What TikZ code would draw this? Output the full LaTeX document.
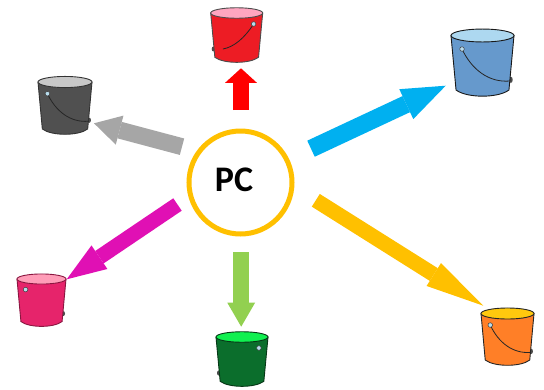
\documentclass[tikz,border=0pt]{standalone}
\usepackage{fontspec}
\setmainfont{Carlito}
\usetikzlibrary{calc}
\definecolor{aRed}{HTML}{FF0000}
\definecolor{aBlue}{HTML}{00B0F0}
\definecolor{aGray}{HTML}{A6A6A6}
\definecolor{aMag}{HTML}{E010B4}
\definecolor{aGreen}{HTML}{92D050}
\definecolor{aOrange}{HTML}{FFC000}
\definecolor{pinFill}{HTML}{B8DCEC}
\definecolor{bRed}{HTML}{ED1C24}\definecolor{rRed}{HTML}{FFA6C0}
\definecolor{bBlue}{HTML}{6699CC}\definecolor{rBlue}{HTML}{ADD8F0}
\definecolor{bGray}{HTML}{505050}\definecolor{rGray}{HTML}{C8C8C8}
\definecolor{bPink}{HTML}{E6246B}\definecolor{rPink}{HTML}{FF9DB8}
\definecolor{bGreen}{HTML}{0B6E2C}\definecolor{rGreen}{HTML}{10F050}
\definecolor{bOrange}{HTML}{FF7F27}\definecolor{rOrange}{HTML}{FFC90E}
\tikzset{
  pinnode/.style={circle,draw=black!75,fill=pinFill,line width=.5pt,inner sep=0pt,minimum size=4.6pt},
  handleline/.style={draw=black!85,line width=.8pt}
}
% name, cx, rim y, signed half width, height, body, rim, outline, handle path
\newcommand\bucketdraw[9]{%
  \begin{scope}[shift={(#2,#3)},xscale=#4,yscale=#5]
    \fill[black!70] (.9,.72) ellipse [x radius=.06,y radius=.05];
    \path[fill=#6,draw=#8,line width=.9pt] (-1,0) -- (-.84,.886)
      .. controls (-.5,1.02) and (.5,1.02) .. (.84,.886) -- (1,0) -- cycle;
    \path[fill=#7,draw=#8,line width=.9pt] (0,0) ellipse [x radius=1,y radius=.105];
    #9
    \node[pinnode] (#1pin) at (-.65,.22) {};
  \end{scope}%
}
% start, end, shaft width, colour, head length, half head width
\newcommand\blockarrow[6]{%
  \coordinate (#1B) at ($(#2)!#5!(#1)$);
  \draw[line width=#3,draw=#4] (#1) -- (#1B);
  \fill[#4] ($(#1B)!#6!90:(#2)$) -- (#2) -- ($(#1B)!#6!-90:(#2)$) -- cycle;
}
\begin{document}
\begin{tikzpicture}[x=1pt,y=-1pt]
\useasboundingbox (0,0) rectangle (544,389);
\fill[white] (0,0) rectangle (544,389);

\bucketdraw{red}{236.7}{13}{-26}{50}{bRed}{rRed}{black!70}
  {\draw[handleline] (-.65,.22) .. controls (-.3,.5) and (.1,.68) .. (.53,.72);}
\bucketdraw{blue}{482.5}{35.5}{31.5}{61.5}{bBlue}{rBlue}{black!90}
  {\draw[handleline] (-.65,.22) .. controls (-.35,.55) and (.2,.77) .. (.87,.74);}
\bucketdraw{gray}{65}{82}{27}{53}{bGray}{rGray}{black!80}
  {\draw[handleline] (-.65,.22) .. controls (-.35,.55) and (.2,.77) .. (.87,.74);}
\bucketdraw{pink}{41.5}{279}{24.5}{48}{bPink}{rPink}{black!40!bPink}{}
\bucketdraw{green}{242}{337}{-26}{50}{bGreen}{rGreen}{black!50!bGreen}{}
\bucketdraw{orange}{507.5}{313.5}{26.5}{52.5}{bOrange}{rOrange}{black!85}
  {\draw[handleline] (-.65,.22) .. controls (-.35,.55) and (.2,.77) .. (.87,.74);}

\node[circle,draw=aOrange,line width=5pt,minimum size=103pt,inner sep=0pt] (pc) at (240.5,182.5) {};
\node[inner sep=0pt,font=\bfseries\fontsize{36pt}{36pt}\selectfont] (pclabel) at (234,179.5) {PC};

\coordinate (redS) at (241,110);       \coordinate (redE) at (241,68.3);
\coordinate (blueS) at (311,148.7);    \coordinate (blueE) at (445.7,85.7);
\coordinate (grayS) at (182,146.7);    \coordinate (grayE) at (94,123.3);
\coordinate (magS) at (177.5,204.5);   \coordinate (magE) at (66.7,279.3);
\coordinate (grnS) at (241.2,252.3);   \coordinate (grnE) at (241.2,326.7);
\coordinate (orgS) at (315.8,200.3);   \coordinate (orgE) at (483.3,305.7);

\blockarrow{redS}{redE}{15.4pt}{aRed}{14.5pt}{15.9pt}
\blockarrow{blueS}{blueE}{17.7pt}{aBlue}{43.5pt}{16.5pt}
\blockarrow{grayS}{grayE}{17pt}{aGray}{26.5pt}{15pt}
\blockarrow{magS}{magE}{15pt}{aMag}{39.5pt}{14.2pt}
\blockarrow{grnS}{grnE}{15.7pt}{aGreen}{24pt}{13.9pt}
\blockarrow{orgS}{orgE}{15pt}{aOrange}{58.5pt}{13.5pt}
\end{tikzpicture}
\end{document}
